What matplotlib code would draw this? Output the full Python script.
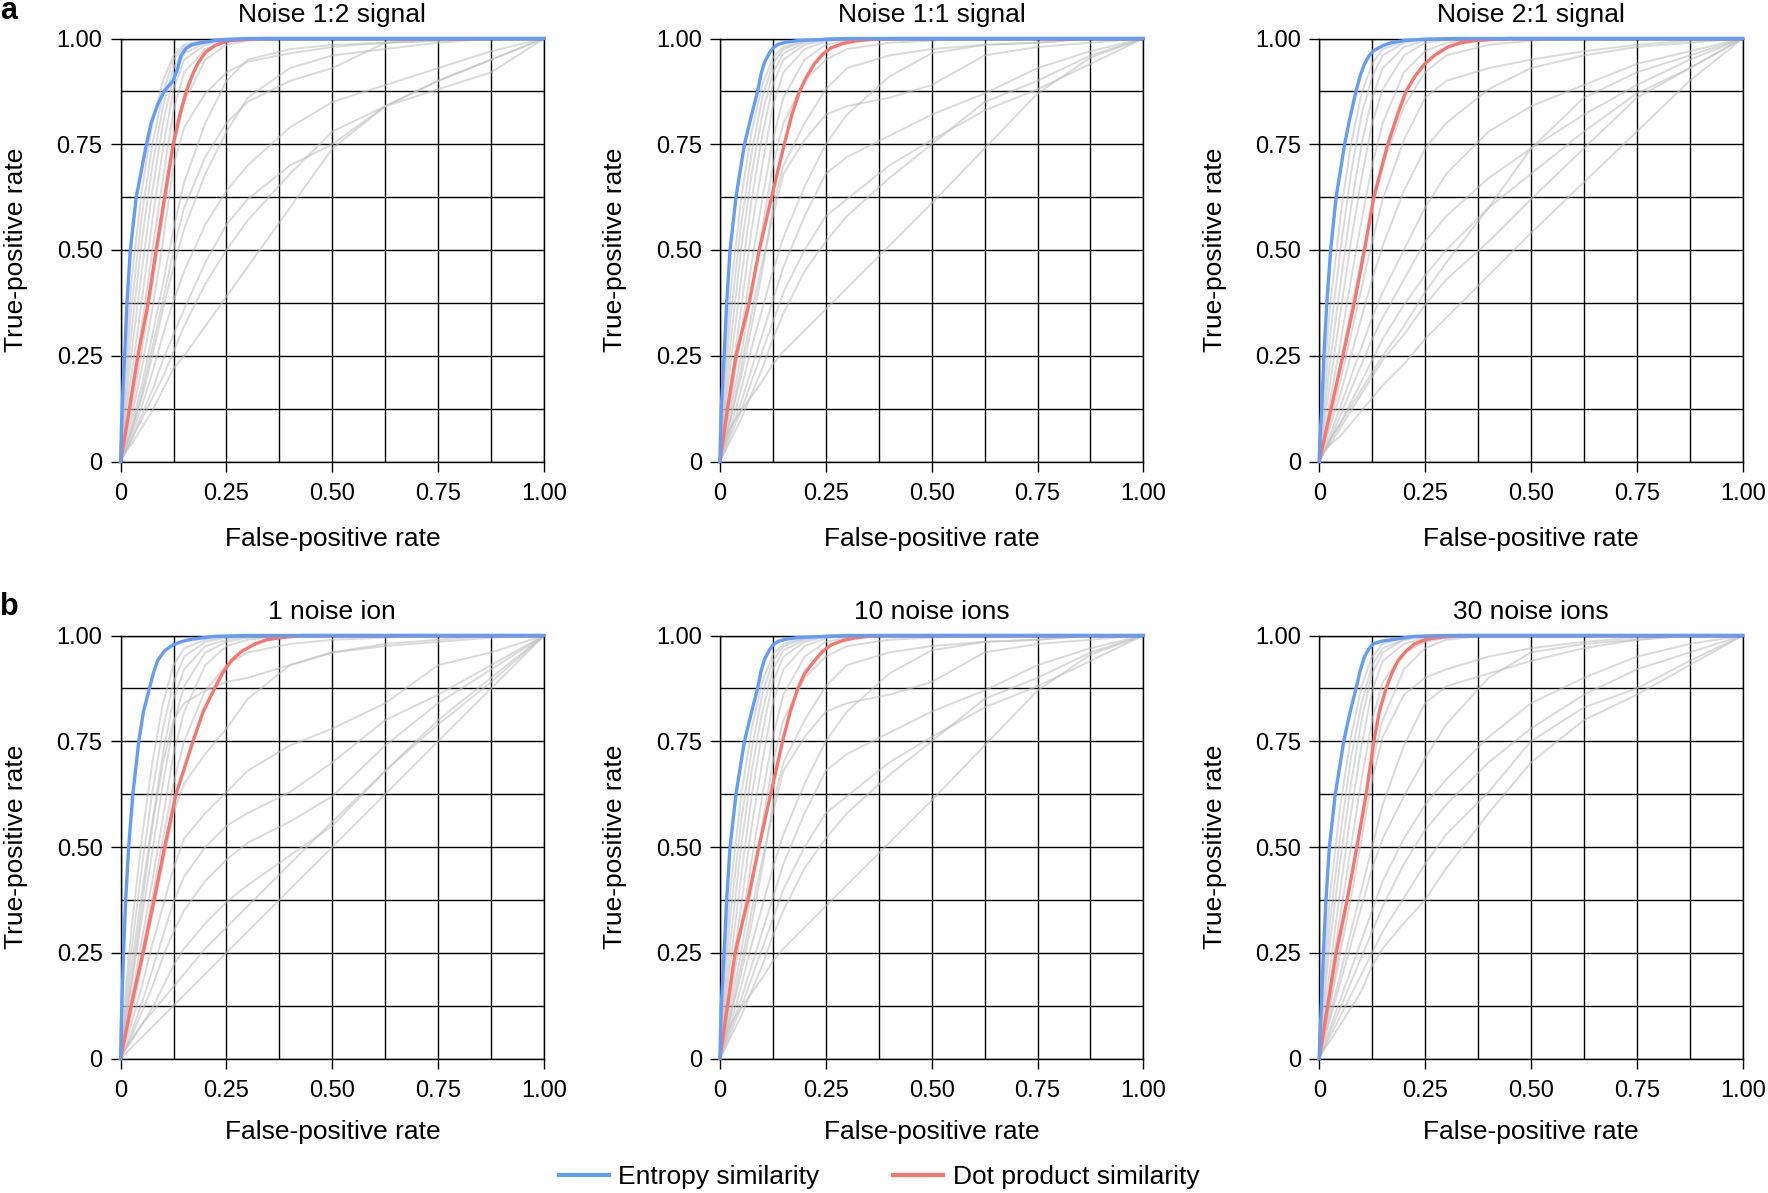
import matplotlib.pyplot as plt
from matplotlib.lines import Line2D
from matplotlib.ticker import MultipleLocator

# 字体
plt.rcParams['font.family'] = ['Liberation Sans', 'DejaVu Sans']

BLUE = '#619CFF'
RED = '#F8766D'
GRAY = '#c2c2c2'

TICKS = [0, 0.25, 0.5, 0.75, 1.0]
TICK_LABELS = ['0', '0.25', '0.50', '0.75', '1.00']

TITLES = ['Noise 1:2 signal', 'Noise 1:1 signal', 'Noise 2:1 signal',
          '1 noise ion', '10 noise ions', '30 noise ions']

# shared false-positive grid for the grey (other similarity) curves
FPR_GRID = [0, 0.01, 0.025, 0.05, 0.075, 0.1, 0.125, 0.15, 0.2, 0.25,
            0.3, 0.4, 0.5, 0.625, 0.75, 0.875, 1.0]

# ---- panel a, noise 1:2 signal ----
ENTROPY_FPR_A1 = [0, 0.002, 0.005, 0.0095, 0.015, 0.023, 0.037, 0.061, 0.072, 0.088,
                  0.104, 0.124, 0.135, 0.143, 0.155, 0.167, 0.19, 0.222, 0.3, 1.0]
ENTROPY_TPR_A1 = [0, 0.08, 0.16, 0.25, 0.375, 0.5, 0.625, 0.75, 0.80, 0.845,
                  0.877, 0.90, 0.93, 0.96, 0.977, 0.985, 0.99, 0.995, 1.0, 1.0]
DOT_FPR_A1 = [0, 0.021, 0.041, 0.065, 0.084, 0.104, 0.124, 0.14, 0.155, 0.17,
              0.183, 0.2, 0.222, 0.24, 0.26, 0.3, 0.34, 1.0]
DOT_TPR_A1 = [0, 0.125, 0.25, 0.375, 0.5, 0.625, 0.75, 0.82, 0.875, 0.915,
              0.942, 0.967, 0.983, 0.99, 0.995, 0.998, 1.0, 1.0]
GRAY_A1 = [
    [0, .22, .42, .64, .80, .90, .96, .985, .997, 1, 1, 1, 1, 1, 1, 1, 1],
    [0, .18, .36, .58, .75, .87, .95, .98, .995, 1, 1, 1, 1, 1, 1, 1, 1],
    [0, .14, .30, .52, .70, .84, .93, .975, .993, 1, 1, 1, 1, 1, 1, 1, 1],
    [0, .11, .25, .45, .64, .80, .91, .965, .99, 1, 1, 1, 1, 1, 1, 1, 1],
    [0, .09, .20, .38, .57, .74, .88, .95, .985, .997, 1, 1, 1, 1, 1, 1, 1],
    [0, .07, .16, .32, .50, .67, .83, .92, .975, .993, 1, 1, 1, 1, 1, 1, 1],
    [0, .05, .12, .26, .42, .58, .74, .85, .95, .985, .995, 1, 1, 1, 1, 1, 1],
    [0, .04, .10, .22, .36, .52, .70, .79, .87, .92, .945, .965, .98, .99, .995, 1, 1],
    [0, .03, .08, .18, .30, .42, .55, .66, .80, .90, .95, .975, .985, .99, 1, 1, 1],
    [0, .03, .07, .15, .25, .36, .46, .55, .68, .78, .86, .93, .96, .975, .99, 1, 1],
    [0, .03, .07, .16, .27, .38, .50, .60, .72, .80, .85, .90, .93, .99, .995, 1, 1],
    [0, .02, .06, .13, .21, .30, .38, .45, .56, .64, .70, .79, .85, .89, .93, .97, 1],
    [0, .02, .05, .11, .17, .24, .30, .36, .47, .56, .62, .70, .75, .84, .90, .95, 1],
    [0, .02, .05, .10, .15, .20, .26, .32, .42, .50, .57, .68, .78, .84, .88, .92, 1],
    [0, .02, .04, .08, .12, .17, .22, .25, .32, .39, .46, .60, .74, .84, .90, .95, 1],
]

# ---- panel a, noise 1:1 signal ----
ENTROPY_FPR_A2 = [0, 0.003, 0.01, 0.016, 0.024, 0.038, 0.058, 0.075, 0.089, 0.097,
                  0.105, 0.117, 0.126, 0.137, 0.155, 0.184, 0.3, 1.0]
ENTROPY_TPR_A2 = [0, 0.12, 0.25, 0.375, 0.5, 0.625, 0.75, 0.82, 0.875, 0.915,
                  0.943, 0.966, 0.978, 0.986, 0.991, 0.995, 1.0, 1.0]
DOT_FPR_A2 = [0, 0.018, 0.038, 0.069, 0.093, 0.122, 0.152, 0.17, 0.188, 0.205,
              0.223, 0.243, 0.263, 0.29, 0.318, 0.36, 0.42, 1.0]
DOT_TPR_A2 = [0, 0.125, 0.25, 0.375, 0.5, 0.625, 0.75, 0.82, 0.875, 0.91,
              0.94, 0.963, 0.978, 0.988, 0.994, 0.998, 1.0, 1.0]
GRAY_A2 = [
    [0, .20, .40, .62, .78, .89, .955, .98, .995, 1, 1, 1, 1, 1, 1, 1, 1],
    [0, .16, .34, .56, .73, .86, .94, .975, .993, 1, 1, 1, 1, 1, 1, 1, 1],
    [0, .12, .28, .50, .68, .82, .92, .965, .99, 1, 1, 1, 1, 1, 1, 1, 1],
    [0, .10, .23, .43, .62, .77, .89, .95, .985, .997, 1, 1, 1, 1, 1, 1, 1],
    [0, .08, .18, .36, .55, .70, .84, .92, .975, .993, 1, 1, 1, 1, 1, 1, 1],
    [0, .06, .14, .30, .47, .62, .76, .86, .95, .985, .995, 1, 1, 1, 1, 1, 1],
    [0, .05, .12, .25, .40, .55, .70, .80, .90, .95, .975, .99, .995, 1, 1, 1, 1],
    [0, .04, .10, .20, .32, .45, .60, .70, .80, .88, .93, .96, .975, .985, .99, 1, 1],
    [0, .04, .10, .22, .35, .47, .58, .68, .76, .82, .84, .86, .89, .96, .98, .99, 1],
    [0, .03, .08, .17, .27, .36, .45, .53, .65, .75, .82, .91, .965, .985, .99, 1, 1],
    [0, .03, .07, .14, .22, .30, .38, .46, .58, .68, .72, .77, .82, .87, .93, .97, 1],
    [0, .02, .06, .12, .19, .26, .33, .40, .50, .58, .62, .70, .76, .83, .88, .94, 1],
    [0, .02, .05, .10, .16, .22, .29, .35, .45, .52, .58, .67, .75, .85, .90, .96, 1],
    [0, .05, .08, .12, .155, .19, .23, .26, .31, .36, .41, .51, .61, .74, .87, .955, 1],
]

# ---- panel a, noise 2:1 signal ----
ENTROPY_FPR_A3 = [0, 0.002, 0.006, 0.011, 0.018, 0.027, 0.04, 0.06, 0.072, 0.087,
                  0.097, 0.107, 0.117, 0.127, 0.15, 0.17, 0.2, 0.24, 0.32, 1.0]
ENTROPY_TPR_A3 = [0, 0.06, 0.125, 0.25, 0.375, 0.5, 0.625, 0.75, 0.81, 0.875,
                  0.913, 0.94, 0.958, 0.97, 0.983, 0.99, 0.995, 0.998, 1.0, 1.0]
DOT_FPR_A3 = [0, 0.028, 0.056, 0.083, 0.107, 0.129, 0.162, 0.185, 0.205, 0.227,
              0.249, 0.275, 0.304, 0.335, 0.367, 0.446, 1.0]
DOT_TPR_A3 = [0, 0.125, 0.25, 0.375, 0.5, 0.625, 0.75, 0.82, 0.875, 0.912,
              0.94, 0.962, 0.98, 0.99, 0.995, 1.0, 1.0]
GRAY_A3 = [
    [0, .17, .36, .58, .75, .87, .94, .975, .993, 1, 1, 1, 1, 1, 1, 1, 1],
    [0, .13, .29, .50, .68, .82, .91, .96, .99, .998, 1, 1, 1, 1, 1, 1, 1],
    [0, .10, .23, .42, .60, .75, .86, .93, .98, .995, 1, 1, 1, 1, 1, 1, 1],
    [0, .08, .18, .35, .52, .67, .80, .88, .96, .99, .997, 1, 1, 1, 1, 1, 1],
    [0, .06, .14, .28, .43, .57, .70, .80, .92, .97, .99, 1, 1, 1, 1, 1, 1],
    [0, .05, .11, .23, .36, .48, .60, .70, .84, .92, .96, .985, .995, 1, 1, 1, 1],
    [0, .04, .09, .19, .30, .41, .52, .62, .76, .86, .90, .93, .95, .97, .985, .995, 1],
    [0, .03, .08, .16, .25, .34, .43, .51, .64, .74, .80, .88, .93, .96, .98, .99, 1],
    [0, .03, .06, .13, .20, .27, .34, .40, .50, .60, .68, .78, .84, .89, .94, .97, 1],
    [0, .02, .05, .11, .17, .23, .29, .34, .43, .52, .58, .67, .74, .82, .89, .95, 1],
    [0, .02, .05, .09, .14, .19, .24, .29, .37, .44, .50, .60, .68, .78, .87, .93, 1],
    [0, .02, .05, .09, .13, .17, .21, .25, .32, .40, .47, .60, .74, .86, .92, .96, 1],
    [0, .02, .04, .08, .12, .16, .20, .24, .30, .37, .43, .52, .62, .74, .86, .93, 1],
    [0, .02, .04, .06, .09, .12, .15, .18, .23, .29, .34, .44, .54, .66, .78, .90, 1],
]

# ---- panel b, 1 noise ion ----
ENTROPY_FPR_B1 = [0, 0.001, 0.003, 0.007, 0.012, 0.019, 0.029, 0.043, 0.054, 0.068,
                  0.078, 0.088, 0.105, 0.124, 0.145, 0.167, 0.222, 0.3, 1.0]
ENTROPY_TPR_B1 = [0, 0.06, 0.125, 0.25, 0.375, 0.5, 0.625, 0.75, 0.82, 0.875,
                  0.913, 0.942, 0.965, 0.978, 0.986, 0.991, 0.998, 1.0, 1.0]
DOT_FPR_B1 = [0, 0.025, 0.053, 0.079, 0.104, 0.131, 0.171, 0.195, 0.222, 0.24,
              0.261, 0.285, 0.317, 0.345, 0.38, 0.43, 1.0]
DOT_TPR_B1 = [0, 0.125, 0.25, 0.375, 0.5, 0.625, 0.75, 0.82, 0.875, 0.91,
              0.94, 0.962, 0.98, 0.99, 0.995, 1.0, 1.0]
GRAY_B1 = [
    [0, .14, .30, .52, .70, .84, .93, .97, .99, .997, 1, 1, 1, 1, 1, 1, 1],
    [0, .11, .25, .45, .63, .78, .89, .95, .985, .995, 1, 1, 1, 1, 1, 1, 1],
    [0, .09, .21, .39, .56, .72, .85, .92, .975, .99, 1, 1, 1, 1, 1, 1, 1],
    [0, .07, .17, .33, .49, .65, .79, .88, .96, .985, .995, 1, 1, 1, 1, 1, 1],
    [0, .06, .14, .28, .42, .57, .72, .82, .93, .975, .99, 1, 1, 1, 1, 1, 1],
    [0, .05, .12, .25, .38, .52, .65, .75, .87, .93, .96, .98, .99, .995, 1, 1, 1],
    [0, .08, .18, .36, .55, .70, .80, .84, .87, .89, .90, .93, .96, .975, .985, .995, 1],
    [0, .04, .10, .22, .34, .46, .58, .65, .72, .78, .85, .93, .96, .98, .99, 1, 1],
    [0, .03, .08, .17, .27, .36, .45, .52, .58, .63, .68, .74, .78, .84, .93, .96, 1],
    [0, .02, .06, .13, .21, .29, .37, .43, .50, .55, .58, .63, .70, .80, .86, .93, 1],
    [0, .02, .05, .11, .17, .24, .30, .35, .42, .47, .51, .56, .62, .74, .84, .92, 1],
    [0, .02, .04, .08, .12, .17, .22, .26, .32, .37, .41, .48, .55, .68, .80, .90, 1],
    [0, .02, .045, .08, .11, .14, .17, .20, .26, .31, .36, .46, .56, .68, .79, .89, 1],
    [0, .01, .025, .05, .075, .1, .125, .15, .2, .25, .3, .4, .5, .625, .75, .875, 1],
]

# ---- panel b, 10 noise ions ----
ENTROPY_FPR_B2 = [0, 0.003, 0.01, 0.016, 0.024, 0.038, 0.058, 0.075, 0.089, 0.097,
                  0.105, 0.117, 0.126, 0.137, 0.155, 0.184, 0.3, 1.0]
ENTROPY_TPR_B2 = [0, 0.12, 0.25, 0.375, 0.5, 0.625, 0.75, 0.82, 0.875, 0.915,
                  0.943, 0.966, 0.978, 0.986, 0.991, 0.995, 1.0, 1.0]
DOT_FPR_B2 = [0, 0.018, 0.036, 0.066, 0.092, 0.12, 0.148, 0.166, 0.184, 0.2,
              0.223, 0.243, 0.263, 0.29, 0.318, 0.35, 0.4, 1.0]
DOT_TPR_B2 = [0, 0.125, 0.25, 0.375, 0.5, 0.625, 0.75, 0.82, 0.875, 0.91,
              0.94, 0.963, 0.978, 0.988, 0.994, 0.998, 1.0, 1.0]
GRAY_B2 = [
    [0, .20, .40, .62, .78, .89, .955, .98, .995, 1, 1, 1, 1, 1, 1, 1, 1],
    [0, .16, .34, .56, .73, .86, .94, .975, .993, 1, 1, 1, 1, 1, 1, 1, 1],
    [0, .12, .28, .50, .68, .82, .92, .965, .99, 1, 1, 1, 1, 1, 1, 1, 1],
    [0, .10, .23, .43, .62, .77, .89, .95, .985, .997, 1, 1, 1, 1, 1, 1, 1],
    [0, .08, .18, .36, .55, .70, .84, .92, .975, .993, 1, 1, 1, 1, 1, 1, 1],
    [0, .06, .14, .30, .47, .62, .76, .86, .95, .985, .995, 1, 1, 1, 1, 1, 1],
    [0, .05, .12, .25, .40, .55, .70, .80, .90, .95, .975, .99, .995, 1, 1, 1, 1],
    [0, .04, .10, .20, .32, .45, .60, .70, .80, .88, .93, .96, .975, .985, .99, 1, 1],
    [0, .04, .10, .22, .35, .47, .58, .68, .76, .82, .84, .86, .89, .96, .98, .99, 1],
    [0, .03, .08, .17, .27, .36, .45, .53, .65, .75, .82, .91, .965, .985, .99, 1, 1],
    [0, .03, .07, .14, .22, .30, .38, .46, .58, .68, .72, .77, .82, .87, .93, .97, 1],
    [0, .02, .06, .12, .19, .26, .33, .40, .50, .58, .62, .70, .76, .83, .88, .94, 1],
    [0, .02, .05, .10, .16, .22, .29, .35, .45, .52, .58, .67, .75, .85, .90, .96, 1],
    [0, .05, .08, .12, .155, .19, .23, .26, .31, .36, .41, .51, .61, .74, .87, .955, 1],
]

# ---- panel b, 30 noise ions ----
ENTROPY_FPR_B3 = [0, 0.002, 0.005, 0.01, 0.016, 0.024, 0.038, 0.058, 0.072, 0.087,
                  0.097, 0.107, 0.117, 0.127, 0.145, 0.17, 0.225, 0.3, 1.0]
ENTROPY_TPR_B3 = [0, 0.06, 0.125, 0.25, 0.375, 0.5, 0.625, 0.75, 0.815, 0.875,
                  0.918, 0.95, 0.968, 0.98, 0.986, 0.99, 0.998, 1.0, 1.0]
DOT_FPR_B3 = [0, 0.02, 0.04, 0.066, 0.089, 0.111, 0.129, 0.142, 0.158, 0.172,
              0.186, 0.205, 0.225, 0.25, 0.272, 0.328, 1.0]
DOT_TPR_B3 = [0, 0.125, 0.25, 0.375, 0.5, 0.625, 0.75, 0.82, 0.875, 0.912,
              0.94, 0.963, 0.98, 0.99, 0.994, 1.0, 1.0]
GRAY_B3 = [
    [0, .19, .38, .60, .76, .88, .95, .98, .995, 1, 1, 1, 1, 1, 1, 1, 1],
    [0, .15, .32, .53, .71, .84, .93, .97, .99, 1, 1, 1, 1, 1, 1, 1, 1],
    [0, .12, .27, .47, .65, .80, .91, .96, .99, .997, 1, 1, 1, 1, 1, 1, 1],
    [0, .09, .21, .40, .58, .74, .87, .94, .98, .995, 1, 1, 1, 1, 1, 1, 1],
    [0, .07, .17, .34, .50, .66, .80, .89, .96, .985, .995, 1, 1, 1, 1, 1, 1],
    [0, .05, .13, .27, .42, .56, .70, .80, .92, .97, .99, 1, 1, 1, 1, 1, 1],
    [0, .05, .12, .25, .38, .52, .66, .76, .86, .90, .92, .95, .97, .985, .995, 1, 1],
    [0, .04, .09, .18, .27, .36, .45, .52, .62, .71, .79, .90, .96, .98, .99, 1, 1],
    [0, .04, .10, .20, .30, .40, .50, .60, .74, .84, .88, .91, .94, .97, .99, 1, 1],
    [0, .03, .07, .14, .21, .28, .35, .42, .52, .60, .66, .76, .84, .90, .95, .98, 1],
    [0, .02, .06, .12, .18, .24, .30, .36, .46, .54, .60, .70, .78, .86, .92, .96, 1],
    [0, .02, .05, .10, .15, .20, .25, .30, .38, .46, .53, .63, .75, .83, .875, .94, 1],
    [0, .02, .04, .08, .12, .16, .22, .26, .32, .375, .45, .58, .70, .80, .86, .93, 1],
]

PANELS = [
    (GRAY_A1, ENTROPY_FPR_A1, ENTROPY_TPR_A1, DOT_FPR_A1, DOT_TPR_A1),
    (GRAY_A2, ENTROPY_FPR_A2, ENTROPY_TPR_A2, DOT_FPR_A2, DOT_TPR_A2),
    (GRAY_A3, ENTROPY_FPR_A3, ENTROPY_TPR_A3, DOT_FPR_A3, DOT_TPR_A3),
    (GRAY_B1, ENTROPY_FPR_B1, ENTROPY_TPR_B1, DOT_FPR_B1, DOT_TPR_B1),
    (GRAY_B2, ENTROPY_FPR_B2, ENTROPY_TPR_B2, DOT_FPR_B2, DOT_TPR_B2),
    (GRAY_B3, ENTROPY_FPR_B3, ENTROPY_TPR_B3, DOT_FPR_B3, DOT_TPR_B3),
]


def draw_panel(ax, title, gray_curves, e_fpr, e_tpr, d_fpr, d_tpr, xlabelpad=16):
    """One ROC panel"""
    for tpr in gray_curves:
        ax.plot(FPR_GRID, tpr, color=GRAY, lw=1.4, alpha=0.6, clip_on=False, zorder=2)
    ax.plot(d_fpr, d_tpr, color=RED, lw=2.4, clip_on=False, zorder=3)
    ax.plot(e_fpr, e_tpr, color=BLUE, lw=2.4, clip_on=False, zorder=4)

    ax.set_xlim(0, 1)
    ax.set_ylim(0, 1)
    ax.set_xticks(TICKS)
    ax.set_xticklabels(TICK_LABELS)
    ax.set_yticks(TICKS)
    ax.set_yticklabels(TICK_LABELS)
    ax.xaxis.set_minor_locator(MultipleLocator(0.125))
    ax.yaxis.set_minor_locator(MultipleLocator(0.125))
    ax.set_axisbelow(True)
    ax.grid(which='both', color='black', lw=1.0)
    ax.tick_params(which='major', length=7, width=1.0, color='black',
                   labelsize=17, pad=6)
    ax.tick_params(axis='x', which='major', pad=8.5)
    ax.tick_params(which='minor', length=0)
    for sp in ax.spines.values():
        sp.set_color('black')
        sp.set_linewidth(1.0)

    ax.set_title(title, fontsize=19, pad=12)
    ax.set_xlabel('False-positive rate', fontsize=19, labelpad=xlabelpad)
    ax.set_ylabel('True-positive rate', fontsize=19, labelpad=20.5)


fig = plt.figure(figsize=(17.68, 11.93), dpi=100)

W, H = 1768, 1193
lefts = [120.6, 719.9, 1319.2]
tops = [38.5, 635.5]
size_w, size_h = 423.5, 423.0
xlabel_pads = [16, 13]

for i, (panel, title) in enumerate(zip(PANELS, TITLES)):
    row, col = divmod(i, 3)
    left = lefts[col] / W
    bottom = 1 - (tops[row] + size_h) / H
    ax = fig.add_axes([left, bottom, size_w / W, size_h / H])
    draw_panel(ax, title, *panel, xlabelpad=xlabel_pads[row])

# panel letters
fig.text(0.5 / W, 1 - 19 / H, 'a', fontsize=22, fontweight='bold', ha='left', va='baseline')
fig.text(0.5 / W, 1 - 615 / H, 'b', fontsize=22, fontweight='bold', ha='left', va='baseline')

handles = [Line2D([], [], color=BLUE, lw=3),
           Line2D([], [], color=RED, lw=3)]
fig.legend(handles, ['Entropy similarity', 'Dot product similarity'],
           loc='center', bbox_to_anchor=(879 / W, 16 / H), ncol=2,
           frameon=False, fontsize=19, handlelength=1.9, handletextpad=0.35,
           columnspacing=2.8, borderpad=0)

fig.savefig('out.png', dpi=100)
plt.close(fig)
